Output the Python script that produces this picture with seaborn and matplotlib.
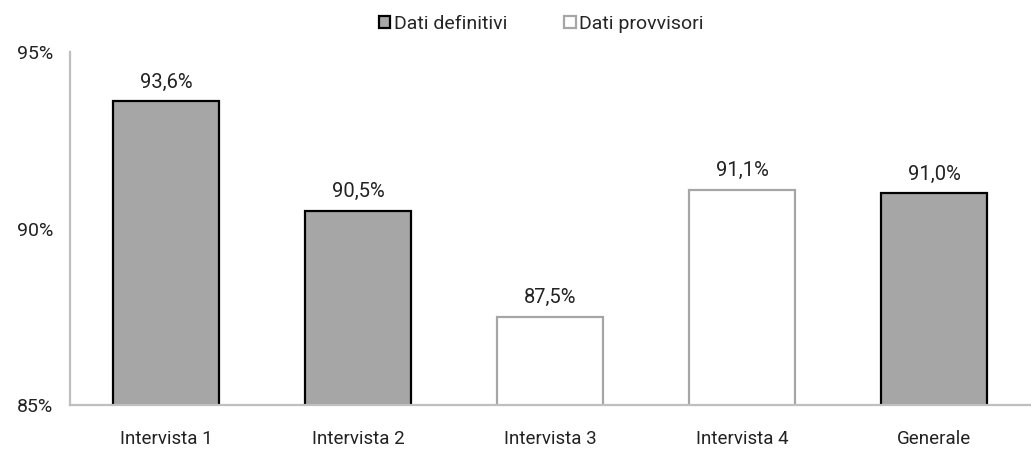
"""Bar chart: percentage by interview, definitive vs provisional data."""

import matplotlib.pyplot as plt
import pandas as pd
import seaborn as sns
from matplotlib.patches import Patch

CATEGORIES = ["Intervista 1", "Intervista 2", "Intervista 3", "Intervista 4", "Generale"]
VALUES = [93.6, 90.5, 87.5, 91.1, 91.0]
STATUS = ["Dati definitivi", "Dati definitivi", "Dati provvisori", "Dati provvisori", "Dati definitivi"]
Y_TICKS = [85, 90, 95]

FILL = {"Dati definitivi": "#a6a6a6", "Dati provvisori": "#ffffff"}
EDGE = {"Dati definitivi": "#000000", "Dati provvisori": "#a6a6a6"}


def main() -> None:
    sns.set_theme(style="white")
    plt.rcParams["font.family"] = ["Roboto", "DejaVu Sans"]

    data = pd.DataFrame({"categoria": CATEGORIES, "valore": VALUES, "stato": STATUS})

    fig = plt.figure(figsize=(10.31, 4.53), dpi=100)
    ax = fig.add_axes([0.068, 0.106, 0.931, 0.779])
    sns.barplot(
        data=data,
        x="categoria",
        y="valore",
        hue="stato",
        palette=FILL,
        dodge=False,
        width=0.55,
        legend=False,
        ax=ax,
    )

    # colour edges by x position so hue ordering of patches does not matter
    for patch in ax.patches:
        idx = round(patch.get_x() + patch.get_width() / 2)
        if 0 <= idx < len(STATUS):
            patch.set_edgecolor(EDGE[STATUS[idx]])
            patch.set_facecolor(FILL[STATUS[idx]])
            patch.set_linewidth(1.6)

    for i, value in enumerate(VALUES):
        ax.annotate(f"{value:.1f}%".replace(".", ","), xy=(i, value),
                    xytext=(0, 7), textcoords="offset points",
                    ha="center", va="bottom", fontsize=14.5, color="#222222")

    ax.set_ylim(85, 95)
    ax.set_xlim(-0.5, len(CATEGORIES) - 0.5)
    ax.set_yticks(Y_TICKS)
    ax.set_yticklabels([f"{t}%" for t in Y_TICKS])
    ax.set_xlabel("")
    ax.set_ylabel("")
    ax.tick_params(axis="both", length=0, labelsize=13.5, colors="#222222")
    ax.tick_params(axis="x", pad=18)
    ax.tick_params(axis="y", pad=12, labelsize=14)

    sns.despine(ax=ax)
    for side in ("left", "bottom"):
        ax.spines[side].set_color("#bfbfbf")
        ax.spines[side].set_linewidth(1.6)

    handles = [
        Patch(facecolor=FILL[k], edgecolor=EDGE[k], linewidth=1.6, label=k)
        for k in ("Dati definitivi", "Dati provvisori")
    ]
    fig.legend(
        handles=handles,
        loc="center",
        bbox_to_anchor=(0.525, 0.948),
        ncol=2,
        frameon=False,
        fontsize=14,
        handlelength=0.6,
        handleheight=0.6,
        handletextpad=0.2,
        columnspacing=2.9,
    )

    fig.savefig("out.png", dpi=100)
    plt.close(fig)


if __name__ == "__main__":
    main()
